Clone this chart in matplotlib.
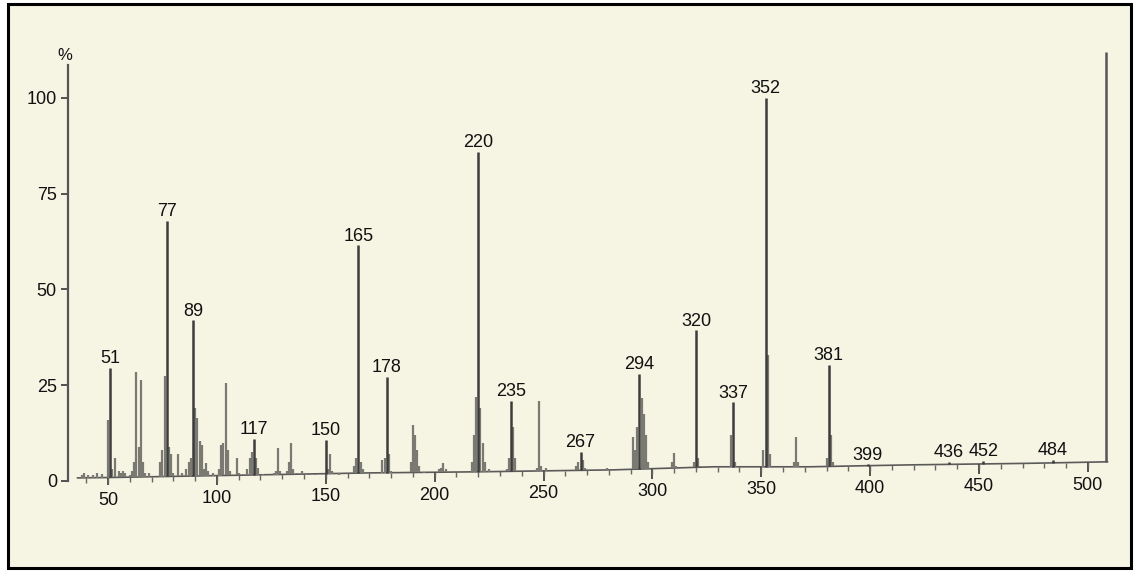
import numpy as np
import matplotlib as mpl
import matplotlib.pyplot as plt
from matplotlib.patches import Rectangle

mpl.rcParams['font.family'] = ['Liberation Sans', 'DejaVu Sans']
mpl.rcParams['font.size'] = 13

# peak list: m/z and relative intensity (%)
mz = [38, 39, 41, 43, 45, 47,
      50, 51, 52, 53, 55, 56, 57, 58, 60, 61,
      62, 63, 64, 65, 66, 67, 69,
      74, 75, 76, 77, 78, 79, 80, 82, 84,
      86, 87, 88, 89, 90, 91, 92, 93, 94, 95, 96, 98,
      101, 102, 103, 104, 105, 106, 109, 110,
      114, 115, 116, 117, 118, 119, 121, 126, 127, 128, 129,
      132, 133, 134, 135, 137, 139, 141, 145,
      150, 151, 152, 153, 156, 160, 163, 164, 165, 166, 167, 169,
      176, 177, 178, 179, 180,
      189, 190, 191, 192, 193, 195,
      202, 203, 204, 205,
      217, 218, 219, 220, 221, 222, 223, 225,
      233, 234, 235, 236, 237,
      247, 248, 249, 251,
      265, 266, 267, 268, 269, 279,
      291, 292, 293, 294, 295, 296, 297, 298,
      309, 310, 311,
      319, 320, 321, 322,
      336, 337, 338,
      351, 352, 353, 354,
      365, 366, 367,
      380, 381, 382, 383,
      399, 436, 452, 484]
inten = [1.5, 2.0, 1.5, 1.5, 2.2, 1.8,
         16, 29.5, 3, 6, 2.5, 2, 2.5, 2, 1.5, 2.5,
         5, 28.5, 9, 26.4, 5, 2, 2,
         5, 8, 27.5, 68, 9, 7, 2, 7, 2,
         3, 5, 6, 42, 19, 16.5, 10.5, 9.5, 3, 4.7, 2.5, 2,
         3, 9.5, 10, 25.5, 8, 2.5, 6, 2,
         3, 6, 7.5, 11, 6, 3.5, 1.8, 2, 2.5, 8.6, 2.5,
         2.5, 5, 10, 3, 2, 2.5, 1.5, 1.5,
         10.7, 3, 7, 2.5, 1.5, 2, 4, 6, 61.6, 5, 3, 2,
         5.5, 6, 27.2, 7, 2.5,
         5, 14.6, 12, 8, 4, 2,
         3, 3.5, 4.7, 3,
         5, 12, 22, 86, 19, 10, 5, 3,
         3, 6, 21, 14, 6,
         3.5, 21, 4, 3.5,
         4, 5, 7.6, 5.5, 3.5, 3.5,
         11.6, 8, 14, 28, 21.6, 17.5, 12, 5,
         5, 7.3, 4,
         5, 39.4, 6, 4,
         12, 20.5, 5,
         8, 100, 33, 7,
         5, 11.6, 5,
         6, 30.3, 12, 5,
         4.4, 5.0, 5.3, 5.6]

# m/z values printed above their peaks
labelled = [51, 77, 89, 117, 150, 165, 178, 220, 235, 267, 294, 320, 337,
            352, 381, 399, 436, 452, 484]

# drifting baseline of the trace (%)
base_mz = [36, 50, 169, 221, 282, 328, 372, 418, 472, 509]
base_lvl = [0.8, 0.9, 2.1, 2.4, 2.9, 3.7, 3.7, 4.2, 4.6, 5.0]

# end-of-scan marker
edge_mz = 508.5
edge_top = 112

xticks = [50, 100, 150, 200, 250, 300, 350, 400, 450, 500]
xminor = list(range(40, 510, 10))
yticks = [0, 25, 50, 75, 100]

W, H = 1139, 574
fig = plt.figure(figsize=(W / 100, H / 100), dpi=100)
fig.patch.set_facecolor('white')
fig.patches.append(Rectangle((8 / W, 1 - 568 / H), (1131 - 8) / W, (568 - 4) / H,
                             transform=fig.transFigure, facecolor='#f6f4e3',
                             edgecolor='black', lw=2.2, zorder=-5))

ax = fig.add_axes([68 / W, 1 - 484.8 / H, (1114 - 68) / W, (484.8 - 48.2) / H])
ax.patch.set_alpha(0)
ax.set_xlim(31.6, 512)
ax.set_ylim(-1, 113)


def base(m):
    return np.interp(m, base_mz, base_lvl)


mz_a = np.array(mz, dtype=float)
in_a = np.array(inten, dtype=float)
is_lab = np.isin(mz_a, labelled)

# trace baseline
ax.plot(base_mz, base_lvl, color='#5a5a5a', lw=1.2)

# peaks
ax.vlines(mz_a[~is_lab], base(mz_a[~is_lab]), in_a[~is_lab], color='#7a7a72', lw=1.6)
ax.vlines(mz_a[is_lab], base(mz_a[is_lab]), in_a[is_lab], color='#3c3c3c', lw=1.8)
ax.vlines(edge_mz, base(edge_mz), edge_top, color='#555555', lw=1.8)

for m, v in zip(mz_a[is_lab], in_a[is_lab]):
    ax.annotate(str(int(m)), xy=(m, v), xytext=(0, 9), textcoords='offset pixels',
                ha='center', va='center', fontsize=13, color='#111111')

# x ticks hang from the drifting baseline
tb = base(np.array(xticks, dtype=float))
ax.vlines(xticks, tb - 2.6, tb, color='#444444', lw=1.3)
mb = base(np.array(xminor, dtype=float))
ax.vlines(xminor, mb - 1.3, mb, color='#666666', lw=1.0)
for t, b in zip(xticks, tb):
    ax.annotate(str(t), xy=(t, b), xytext=(0, -23), textcoords='offset pixels',
                ha='center', va='center', fontsize=13, color='#111111')

# y axis
for s in ['top', 'right', 'bottom']:
    ax.spines[s].set_visible(False)
ax.spines['left'].set_bounds(0, 108.6)
ax.spines['left'].set_color('#555555')
ax.spines['left'].set_linewidth(1.6)
ax.set_xticks([])
ax.set_yticks(yticks)
ax.tick_params(axis='y', length=5, width=1.3, color='#444444', pad=3,
               labelsize=13, labelcolor='#111111')
ax.text(30.2, 111.2, '%', ha='center', va='center', fontsize=12, color='#111111')

fig.savefig('out.png', dpi=100)
